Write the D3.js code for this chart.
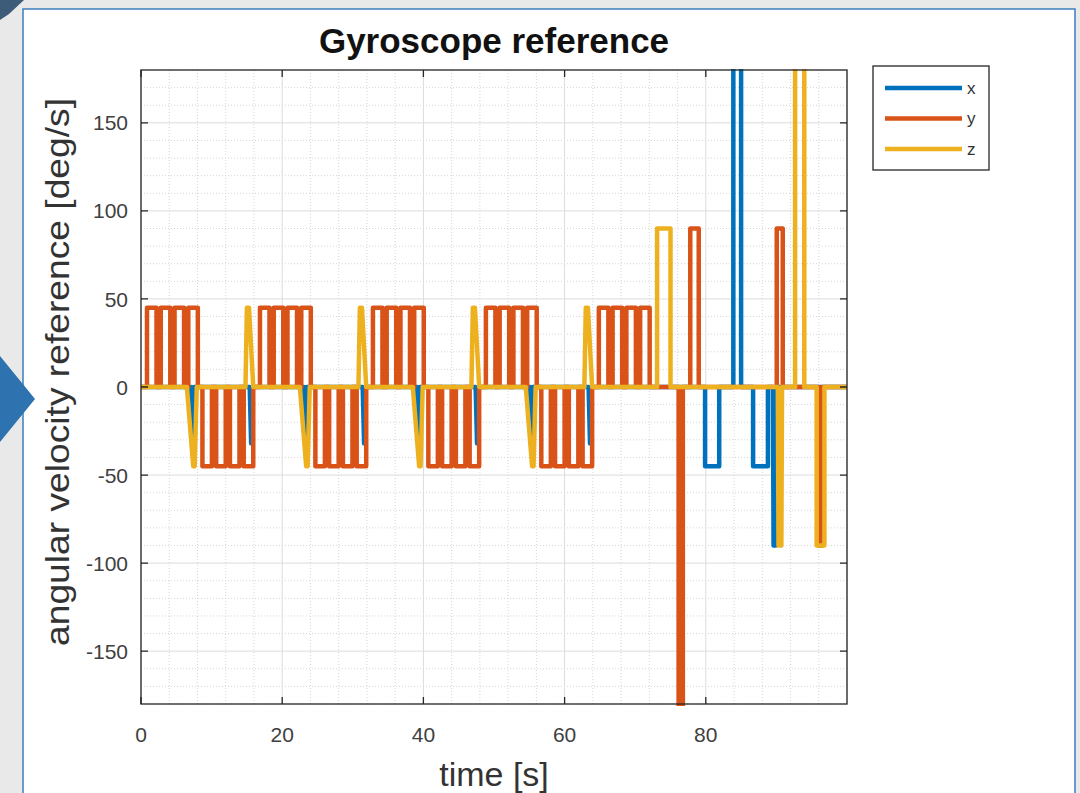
<!DOCTYPE html>
<html>
<head>
<meta charset="utf-8">
<script src="https://cdn.jsdelivr.net/npm/d3@7"></script>
<style>
  body { margin: 0; background: #e9e9e9; }
  svg { display: block; }
  text { font-family: "Liberation Sans", Arial, sans-serif; }
</style>
</head>
<body>
<svg id="chart" width="1080" height="793"></svg>
<script>
// each pulse: [t0, t1, t2, t3, level] -> (t0,0) (t1,level) (t2,level) (t3,0)
const xPulses = [
  [7.1, 7.3, 7.3, 7.5, -32], [15.4, 15.6, 15.6, 15.8, -32],
  [23.1, 23.3, 23.3, 23.5, -32], [31.4, 31.6, 31.6, 31.8, -32],
  [39.1, 39.3, 39.3, 39.5, -32], [47.4, 47.6, 47.6, 47.8, -32],
  [55.1, 55.3, 55.3, 55.5, -32], [63.4, 63.6, 63.6, 63.8, -32],
  [79.9, 79.9, 81.9, 81.9, -45],
  [83.9, 83.9, 85.0, 85.0, 200],
  [86.7, 86.7, 88.8, 88.8, -45],
  [89.5, 89.6, 89.9, 90.0, -90]
];

const yPulses = [
  [0.85, 0.85, 2.2, 2.2, 45], [2.8, 2.8, 4.15, 4.15, 45], [4.75, 4.75, 6.1, 6.1, 45], [6.7, 6.7, 8.05, 8.05, 45],
  [8.7, 8.7, 10.05, 10.05, -45], [10.65, 10.65, 12.0, 12.0, -45], [12.6, 12.6, 13.95, 13.95, -45], [14.55, 14.55, 15.9, 15.9, -45],
  [16.85, 16.85, 18.2, 18.2, 45], [18.8, 18.8, 20.15, 20.15, 45], [20.75, 20.75, 22.1, 22.1, 45], [22.7, 22.7, 24.05, 24.05, 45],
  [24.7, 24.7, 26.05, 26.05, -45], [26.65, 26.65, 28.0, 28.0, -45], [28.6, 28.6, 29.95, 29.95, -45], [30.55, 30.55, 31.9, 31.9, -45],
  [32.85, 32.85, 34.2, 34.2, 45], [34.8, 34.8, 36.15, 36.15, 45], [36.75, 36.75, 38.1, 38.1, 45], [38.7, 38.7, 40.05, 40.05, 45],
  [40.7, 40.7, 42.05, 42.05, -45], [42.65, 42.65, 44.0, 44.0, -45], [44.6, 44.6, 45.95, 45.95, -45], [46.55, 46.55, 47.9, 47.9, -45],
  [48.85, 48.85, 50.2, 50.2, 45], [50.8, 50.8, 52.15, 52.15, 45], [52.75, 52.75, 54.1, 54.1, 45], [54.7, 54.7, 56.05, 56.05, 45],
  [56.7, 56.7, 58.05, 58.05, -45], [58.65, 58.65, 60.0, 60.0, -45], [60.6, 60.6, 61.95, 61.95, -45], [62.55, 62.55, 63.9, 63.9, -45],
  [64.85, 64.85, 66.2, 66.2, 45], [66.8, 66.8, 68.15, 68.15, 45], [68.75, 68.75, 70.1, 70.1, 45], [70.7, 70.7, 72.05, 72.05, 45],
  [76.15, 76.15, 76.75, 76.75, -200],
  [77.8, 77.8, 79.0, 79.0, 90],
  [90.05, 90.05, 90.9, 90.9, 90],
  [96.0, 96.0, 96.5, 96.5, -90]
];

const zPulses = [
  [6.5, 7.4, 7.6, 7.9, -45], [14.8, 15.0, 15.3, 15.9, 45],
  [22.5, 23.4, 23.6, 23.9, -45], [30.8, 31.0, 31.3, 31.9, 45],
  [38.5, 39.4, 39.6, 39.9, -45], [46.8, 47.0, 47.3, 47.9, 45],
  [54.5, 55.4, 55.6, 55.9, -45], [62.8, 63.0, 63.3, 63.9, 45],
  [73.1, 73.1, 75.0, 75.0, 90],
  [90.2, 90.3, 90.7, 90.8, -90],
  [92.65, 92.65, 93.95, 93.95, 200],
  [95.7, 95.7, 96.8, 96.8, -90]
];

const seriesNames = ['x', 'y', 'z'];
const xTicks = [0, 20, 40, 60, 80];
const yTicks = [-150, -100, -50, 0, 50, 100, 150];

const colors = ['#0072BD', '#D95319', '#EDB120'];
const axisColor = '#262626';

const svg = d3.select('#chart');

// screenshot frame
svg.append('rect').attr('width', 1080).attr('height', 793).attr('fill', '#e9e9e9');
svg.append('rect')
  .attr('x', 23).attr('y', 9).attr('width', 1052).attr('height', 800)
  .attr('fill', '#ffffff').attr('stroke', '#3b7dbd').attr('stroke-width', 1.5);
svg.append('polygon').attr('points', '0,356 35,399 0,442').attr('fill', '#2f72b0');
svg.append('polygon').attr('points', '0,0 24,0 9,14 0,20').attr('fill', '#3d5c7a');

const x = d3.scaleLinear().domain([0, 100]).range([141, 847]);
const y = d3.scaleLinear().domain([-180, 180]).range([704, 70]);

// grid
const grid = svg.append('g');
const xMinor = d3.range(0, 101, 4).filter(v => v % 20 !== 0);
const yMinor = d3.range(-180, 181, 10).filter(v => v % 50 !== 0);
grid.selectAll('.xm').data(xMinor).join('line')
  .attr('x1', d => x(d)).attr('x2', d => x(d)).attr('y1', 70).attr('y2', 704)
  .attr('stroke', '#d6d6d6').attr('stroke-width', 1).attr('stroke-dasharray', '1,2');
grid.selectAll('.ym').data(yMinor).join('line')
  .attr('y1', d => y(d)).attr('y2', d => y(d)).attr('x1', 141).attr('x2', 847)
  .attr('stroke', '#d6d6d6').attr('stroke-width', 1).attr('stroke-dasharray', '1,2');
grid.selectAll('.xg').data(xTicks.concat([100])).join('line')
  .attr('x1', d => x(d)).attr('x2', d => x(d)).attr('y1', 70).attr('y2', 704)
  .attr('stroke', '#dcdcdc').attr('stroke-width', 1);
grid.selectAll('.yg').data(yTicks).join('line')
  .attr('y1', d => y(d)).attr('y2', d => y(d)).attr('x1', 141).attr('x2', 847)
  .attr('stroke', '#dcdcdc').attr('stroke-width', 1);

// lines
svg.append('clipPath').attr('id', 'plotclip')
  .append('rect').attr('x', 141).attr('y', 69).attr('width', 706).attr('height', 637);

function toPoints(pulses) {
  const pts = [[0, 0]];
  pulses.forEach(p => {
    pts.push([p[0], 0], [p[1], p[4]], [p[2], p[4]], [p[3], 0]);
  });
  pts.push([100, 0]);
  return pts;
}

const line = d3.line().x(d => x(d[0])).y(d => y(d[1]));
const series = [xPulses, yPulses, zPulses];

svg.append('g').attr('clip-path', 'url(#plotclip)')
  .selectAll('path').data(series).join('path')
  .attr('d', d => line(toPoints(d)))
  .attr('fill', 'none')
  .attr('stroke', (d, i) => colors[i])
  .attr('stroke-width', 4.5)
  .attr('stroke-linejoin', 'round')
  .attr('stroke-linecap', 'round');

// axes box and ticks
const ax = svg.append('g');
ax.append('rect').attr('x', 141).attr('y', 70).attr('width', 706).attr('height', 634)
  .attr('fill', 'none').attr('stroke', axisColor).attr('stroke-width', 1.3);
ax.selectAll('.xt').data(xTicks).join('path')
  .attr('d', d => `M${x(d)},704v-7M${x(d)},70v7`)
  .attr('stroke', axisColor).attr('stroke-width', 1.3);
ax.selectAll('.yt').data(yTicks).join('path')
  .attr('d', d => `M141,${y(d)}h7M847,${y(d)}h-7`)
  .attr('stroke', axisColor).attr('stroke-width', 1.3);

ax.selectAll('.xl').data(xTicks).join('text')
  .attr('x', d => x(d)).attr('y', 742)
  .attr('text-anchor', 'middle').attr('font-size', 21).attr('fill', '#404040')
  .text(d => d);
ax.selectAll('.yl').data(yTicks).join('text')
  .attr('x', 128).attr('y', d => y(d)).attr('dy', '0.36em')
  .attr('text-anchor', 'end').attr('font-size', 21).attr('fill', '#404040')
  .text(d => d);

// titles
svg.append('text').attr('x', 494).attr('y', 53)
  .attr('text-anchor', 'middle').attr('font-size', 35).attr('font-weight', 'bold')
  .attr('fill', '#111').text('Gyroscope reference');
svg.append('text').attr('x', 494).attr('y', 786)
  .attr('text-anchor', 'middle').attr('font-size', 34).attr('fill', '#333')
  .text('time [s]');
svg.append('text')
  .attr('transform', 'translate(69,372) rotate(-90)')
  .attr('text-anchor', 'middle').attr('font-size', 34).attr('fill', '#333')
  .attr('textLength', 548).attr('lengthAdjust', 'spacingAndGlyphs')
  .text('angular velocity reference [deg/s]');

// legend
const lg = svg.append('g');
lg.append('rect').attr('x', 873).attr('y', 66).attr('width', 116).attr('height', 104)
  .attr('fill', '#fff').attr('stroke', axisColor).attr('stroke-width', 1.3);
const items = lg.selectAll('.li').data(seriesNames).join('g')
  .attr('transform', (d, i) => `translate(0,${88 + i * 30.5})`);
items.append('line').attr('x1', 885).attr('x2', 962).attr('y1', 0).attr('y2', 0)
  .attr('stroke', (d, i) => colors[i]).attr('stroke-width', 4.5);
items.append('text').attr('x', 967).attr('y', 0).attr('dy', '0.35em')
  .attr('font-size', 17).attr('fill', '#333').text(d => d);
</script>
</body>
</html>
